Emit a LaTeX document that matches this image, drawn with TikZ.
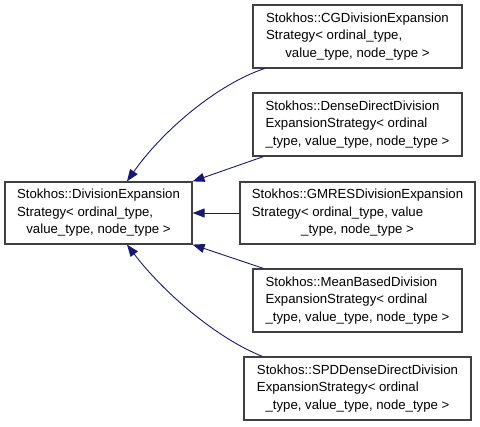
\documentclass[tikz,border=0pt]{standalone}
\usepackage{fontspec}
\setmainfont{Liberation Sans}
\usetikzlibrary{arrows.meta}
\definecolor{edgeblue}{RGB}{25,25,112}
\definecolor{boxgray}{RGB}{64,64,64}
\newcommand\clslabel[3]{\begin{tabular}{@{}l@{}}#1\\#2\\\multicolumn{1}{@{}c@{}}{#3}\end{tabular}}
\begin{document}
\begin{tikzpicture}[x=1pt,y=-1pt,
  cls/.style={draw=boxgray, line width=1.2pt, fill=white, minimum height=62pt,
    inner sep=0pt, font=\fontsize{13.2}{17.5}\selectfont},
  edge/.style={draw=edgeblue, line width=0.9pt, -{Triangle[length=12pt,width=9pt]}}]
\useasboundingbox (0,0) rectangle (480,427);
\node[cls, minimum width=187pt] (base) at (98.5,213)
  {\clslabel{Stokhos::DivisionExpansion}{Strategy< ordinal\_type,}{value\_type, node\_type >}};
\node[cls, minimum width=209pt, minimum height=63pt] (cg) at (357.5,36.5)
  {\clslabel{Stokhos::CGDivisionExpansion}{Strategy< ordinal\_type,}{value\_type, node\_type >}};
\node[cls, minimum width=209pt, minimum height=63pt] (dense) at (357.5,124.5)
  {\clslabel{Stokhos::DenseDirectDivision}{ExpansionStrategy< ordinal}{\_type, value\_type, node\_type >}};
\node[cls, minimum width=235pt] (gmres) at (357.5,213)
  {\clslabel{Stokhos::GMRESDivisionExpansion}{Strategy< ordinal\_type, value}{\_type, node\_type >}};
\node[cls, minimum width=209pt, minimum height=63pt] (mean) at (357.5,300.5)
  {\clslabel{Stokhos::MeanBasedDivision}{ExpansionStrategy< ordinal}{\_type, value\_type, node\_type >}};
\node[cls, minimum width=227pt, minimum height=63pt] (spd) at (357.5,388.5)
  {\clslabel{Stokhos::SPDDenseDirectDivision}{ExpansionStrategy< ordinal}{\_type, value\_type, node\_type >}};
\draw[edge] ([xshift=12pt]cg.south west) .. controls (218,84) and (163,130) .. ([xshift=28.5pt]base.north);
\draw[edge] ([xshift=11pt]dense.south west) -- (base.north east);
\draw[edge] (gmres.west) -- (base.east);
\draw[edge] ([xshift=11pt]mean.north west) -- (base.south east);
\draw[edge] ([xshift=19pt]spd.north west) .. controls (216,338) and (163,292) .. ([xshift=28.5pt]base.south);
\end{tikzpicture}
\end{document}
